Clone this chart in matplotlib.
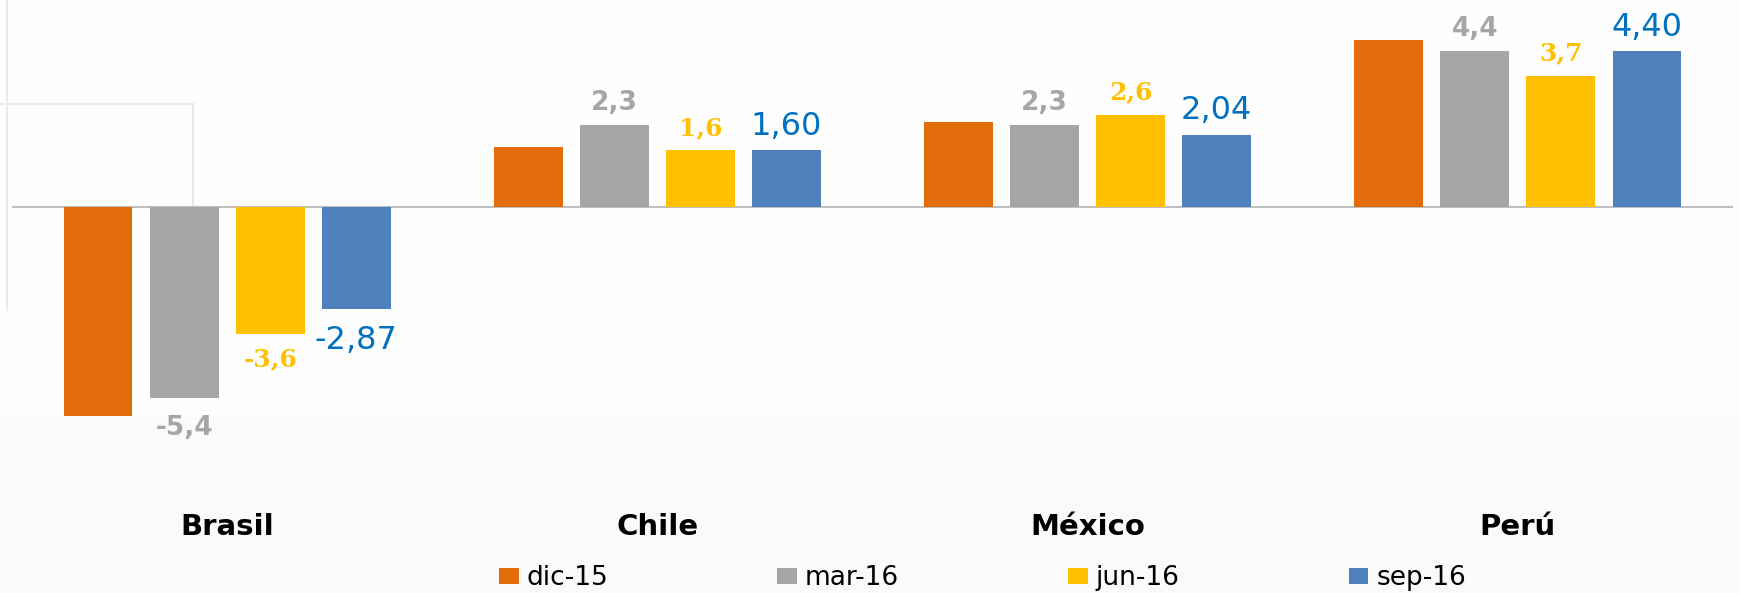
import numpy as np
import matplotlib
matplotlib.use('Agg')
import matplotlib.pyplot as plt
from matplotlib.patches import Patch, Rectangle
from matplotlib.lines import Line2D
import matplotlib.transforms as mtransforms

# datos
paises = ['Brasil', 'Chile', 'México', 'Perú']
series = ['dic-15', 'mar-16', 'jun-16', 'sep-16']
dic15 = [-5.9, 1.7, 2.4, 4.7]
mar16 = [-5.4, 2.3, 2.3, 4.4]
jun16 = [-3.6, 1.6, 2.6, 3.7]
sep16 = [-2.87, 1.60, 2.04, 4.40]

colores = ['#E36C0A', '#A5A5A5', '#FFC000', '#4F81BD']
W, H = 1739, 593
fig = plt.figure(figsize=(W / 100, H / 100), dpi=100, facecolor='#fefefe')

# fondo: franja inferior un poco mas gris
bg = fig.add_axes([0, 0, 1, 1], zorder=-10)
bg.set_xlim(0, W)
bg.set_ylim(H, 0)
bg.axis('off')
bg.add_patch(Rectangle((0, 417), W, H - 417, facecolor='#fafafa', edgecolor='none'))
# restos de marco tenue arriba a la izquierda
for xs, ys in [([7, 7], [0, 310]), ([0, 193], [104, 104]), ([193, 193], [104, 207])]:
    bg.add_line(Line2D(xs, ys, color='#ebebeb', lw=1.5))

ax = fig.add_axes([12 / W, 0, 1721 / W, 1])
ax.patch.set_alpha(0)
ax.set_xlim(-0.5, 3.5)
ax.set_ylim(-10.9, 5.84)
ax.axis('off')
ax.axhline(0, color='#BFBFBF', lw=1.5, zorder=1)

x = np.arange(len(paises))
valores = [dic15, mar16, jun16, sep16]
for i, (vals, col) in enumerate(zip(valores, colores)):
    ax.bar(x + (i - 1.5) * 0.2, vals, width=0.16, color=col, zorder=2)

# etiquetas de datos
estilos = {
    1: dict(color='#A6A6A6', fontsize=19, fontweight='bold', family='DejaVu Sans', fmt='{:.1f}', neg=-12),
    2: dict(color='#FFC000', fontsize=18, fontweight='bold', family='DejaVu Serif', fmt='{:.1f}', neg=-9),
    3: dict(color='#0070C0', fontsize=23, fontweight='normal', family='DejaVu Sans', fmt='{:.2f}', neg=-12),
}
for i, est in estilos.items():
    for xi, v in zip(x, valores[i]):
        txt = est['fmt'].format(v).replace('.', ',')
        off = 11 if v >= 0 else est['neg']
        ax.annotate(txt, (xi + (i - 1.5) * 0.2, v), xytext=(0, off),
                    textcoords='offset points', ha='center',
                    va='baseline' if v >= 0 else 'top',
                    color=est['color'], fontsize=est['fontsize'],
                    fontweight=est['fontweight'], family=est['family'])

# nombres de paises
trans = mtransforms.blended_transform_factory(ax.transData, fig.transFigure)
for xi, p in zip(x, paises):
    ax.text(xi, 1 - 527 / H, p, transform=trans, ha='center', va='center',
            fontsize=21, fontweight='bold', family='DejaVu Sans', color='black')

# leyenda
handles = [Patch(facecolor=c, edgecolor='none', label=s) for c, s in zip(colores, series)]
fig.legend(handles=handles, loc='center', bbox_to_anchor=(0.565, 1 - 578 / H), ncol=4,
           frameon=False, handlelength=0.75, handleheight=0.55,
           handletextpad=0.3, columnspacing=6.4, prop={'family': 'DejaVu Sans', 'size': 19})

fig.savefig('out.png', dpi=100, facecolor=fig.get_facecolor())
